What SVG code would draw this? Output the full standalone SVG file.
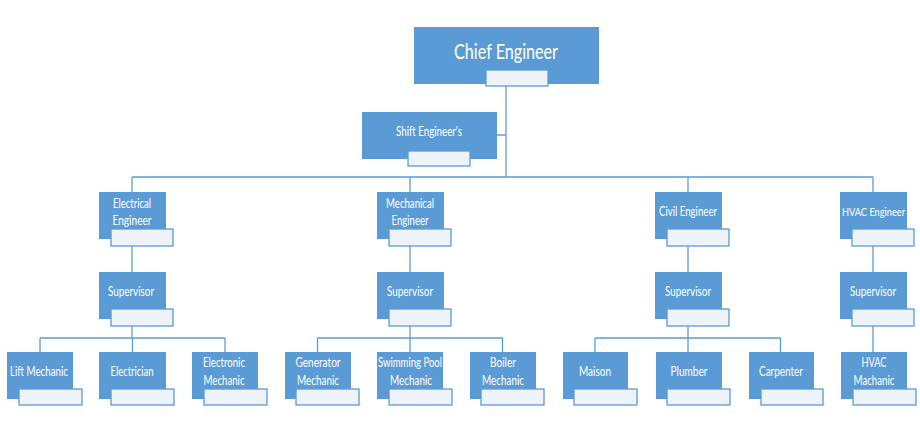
<svg xmlns="http://www.w3.org/2000/svg" width="920" height="446" viewBox="0 0 920 446">
<style>
.box{fill:#5b9bd5}
.sub{fill:#eef3fa;stroke:#5b9bd5;stroke-width:1.3}
.ln{stroke:#5b9bd5;stroke-width:1.3;fill:none}
text{font-family:Lato,"Liberation Sans",sans-serif;fill:#ffffff;font-size:12.5px;text-anchor:middle}
.big{font-size:21px}
.sm{font-size:10.5px}
</style>
<rect width="920" height="446" fill="#ffffff"/>
<g id="connectors" class="ln">
<path d="M506 86V177M497 135H506M132 177H873M132 177V192M410 177V192M688 177V192M873 177V192"/>
<path d="M132 246V272M410 246V272M688 246V272M873 246V272"/>
<path d="M132 326V338M40 338H225M40 338V352M132.5 338V352M225 338V352"/>
<path d="M410 326V338M317.5 338H502.5M317.5 338V352M410 338V352M502.5 338V352"/>
<path d="M688 326V338M595 338H780.5M595 338V352M688 338V352M780.5 338V352"/>
<path d="M873 326V352"/>
</g>
<g id="chief"><rect class="box" x="414" y="27" width="185" height="57"/><rect class="sub" x="486" y="70" width="62" height="16"/><text class="big" x="506" y="59" textLength="104" lengthAdjust="spacingAndGlyphs">Chief Engineer</text></g>
<g id="shift"><rect class="box" x="362" y="112" width="135" height="47"/><rect class="sub" x="408" y="151" width="62" height="15"/><text x="429" y="136" textLength="66" lengthAdjust="spacingAndGlyphs">Shift Engineer's</text></g>

<g id="electrical-engineer"><rect class="box" x="99" y="192" width="67" height="47"/><rect class="sub" x="111" y="229" width="62" height="17"/><text x="132" y="208" textLength="38" lengthAdjust="spacingAndGlyphs">Electrical</text><text x="132" y="225" textLength="39" lengthAdjust="spacingAndGlyphs">Engineer</text></g>
<g id="mechanical-engineer"><rect class="box" x="377" y="192" width="67" height="47"/><rect class="sub" x="389" y="229" width="62" height="17"/><text x="410" y="208" textLength="48" lengthAdjust="spacingAndGlyphs">Mechanical</text><text x="410" y="225" textLength="37" lengthAdjust="spacingAndGlyphs">Engineer</text></g>
<g id="civil-engineer"><rect class="box" x="655" y="192" width="67" height="47"/><rect class="sub" x="667" y="229" width="62" height="17"/><text x="688" y="216" textLength="58" lengthAdjust="spacingAndGlyphs">Civil Engineer</text></g>
<g id="hvac-engineer"><rect class="box" x="840" y="192" width="67" height="47"/><rect class="sub" x="852" y="229" width="62" height="17"/><text class="sm" x="873.5" y="216" textLength="63" lengthAdjust="spacingAndGlyphs">HVAC Engineer</text></g>

<g id="supervisor-electrical"><rect class="box" x="99" y="272" width="67" height="47"/><rect class="sub" x="111" y="309" width="62" height="17"/><text x="131" y="296" textLength="46" lengthAdjust="spacingAndGlyphs">Supervisor</text></g>
<g id="supervisor-mechanical"><rect class="box" x="377" y="272" width="67" height="47"/><rect class="sub" x="389" y="309" width="62" height="17"/><text x="410" y="296" textLength="46" lengthAdjust="spacingAndGlyphs">Supervisor</text></g>
<g id="supervisor-civil"><rect class="box" x="655" y="272" width="67" height="47"/><rect class="sub" x="667" y="309" width="62" height="17"/><text x="688" y="296" textLength="46" lengthAdjust="spacingAndGlyphs">Supervisor</text></g>
<g id="supervisor-hvac"><rect class="box" x="840" y="272" width="67" height="47"/><rect class="sub" x="852" y="309" width="62" height="17"/><text x="873" y="296" textLength="46" lengthAdjust="spacingAndGlyphs">Supervisor</text></g>

<g id="lift-mechanic"><rect class="box" x="7" y="352" width="66" height="47"/><rect class="sub" x="19" y="389" width="63" height="16"/><text x="39" y="376" textLength="58" lengthAdjust="spacingAndGlyphs">Lift Mechanic</text></g>
<g id="electrician"><rect class="box" x="99" y="352" width="67" height="47"/><rect class="sub" x="111" y="389" width="63" height="16"/><text x="132" y="376" textLength="43" lengthAdjust="spacingAndGlyphs">Electrician</text></g>
<g id="electronic-mechanic"><rect class="box" x="192" y="352" width="66" height="47"/><rect class="sub" x="204" y="389" width="63" height="16"/><text x="224" y="367" textLength="42" lengthAdjust="spacingAndGlyphs">Electronic</text><text x="224" y="385" textLength="41" lengthAdjust="spacingAndGlyphs">Mechanic</text></g>
<g id="generator-mechanic"><rect class="box" x="285" y="352" width="66" height="47"/><rect class="sub" x="296" y="389" width="63" height="16"/><text x="318" y="367" textLength="45" lengthAdjust="spacingAndGlyphs">Generator</text><text x="318" y="385" textLength="42" lengthAdjust="spacingAndGlyphs">Mechanic</text></g>
<g id="swimming-pool-mechanic"><rect class="box" x="377" y="352" width="66" height="47"/><rect class="sub" x="389" y="389" width="63" height="16"/><text x="410" y="367" textLength="64" lengthAdjust="spacingAndGlyphs">Swimming Pool</text><text x="411" y="385" textLength="42" lengthAdjust="spacingAndGlyphs">Mechanic</text></g>
<g id="boiler-mechanic"><rect class="box" x="470" y="352" width="66" height="47"/><rect class="sub" x="481" y="389" width="63" height="16"/><text x="503" y="367" textLength="26" lengthAdjust="spacingAndGlyphs">Boiler</text><text x="503" y="385" textLength="42" lengthAdjust="spacingAndGlyphs">Mechanic</text></g>
<g id="maison"><rect class="box" x="563" y="352" width="65" height="47"/><rect class="sub" x="574" y="389" width="63" height="16"/><text x="595" y="376" textLength="32" lengthAdjust="spacingAndGlyphs">Maison</text></g>
<g id="plumber"><rect class="box" x="656" y="352" width="66" height="47"/><rect class="sub" x="667" y="389" width="63" height="16"/><text x="689" y="376" textLength="37" lengthAdjust="spacingAndGlyphs">Plumber</text></g>
<g id="carpenter"><rect class="box" x="749" y="352" width="65" height="47"/><rect class="sub" x="761" y="389" width="62" height="16"/><text x="781" y="376" textLength="44" lengthAdjust="spacingAndGlyphs">Carpenter</text></g>
<g id="hvac-machanic"><rect class="box" x="841" y="352" width="66" height="47"/><rect class="sub" x="853" y="389" width="63" height="16"/><text x="874" y="367" textLength="25" lengthAdjust="spacingAndGlyphs">HVAC</text><text x="874" y="385" textLength="41" lengthAdjust="spacingAndGlyphs">Machanic</text></g>
</svg>
